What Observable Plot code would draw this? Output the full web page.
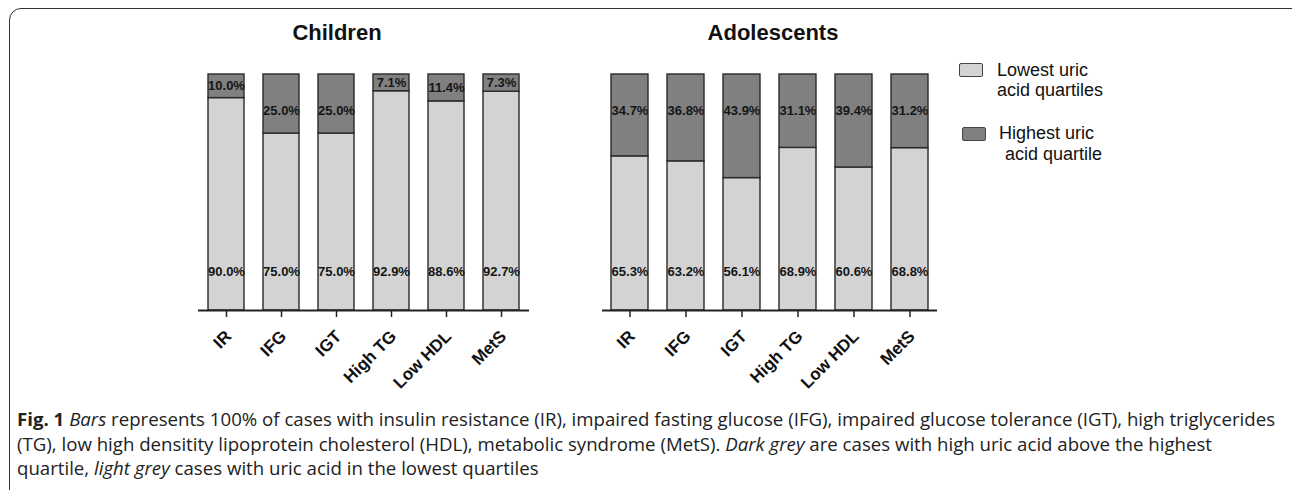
<!DOCTYPE html>
<html>
<head>
<meta charset="utf-8">
<script src="https://cdn.jsdelivr.net/npm/d3@7"></script>
<script src="https://cdn.jsdelivr.net/npm/@observablehq/plot@0.6"></script>
<style>
  html, body { margin: 0; padding: 0; background: #fff; }
  #page { position: relative; width: 1292px; height: 490px; overflow: hidden; font-family: "Liberation Sans", Arial, sans-serif; }
  #box { position: absolute; left: 9px; top: 8px; width: 1300px; height: 500px; border: 1.5px solid #333; border-radius: 12px; box-sizing: border-box; }
  .ptitle { position: absolute; top: 20px; font-weight: bold; font-size: 22px; color: #111; transform: translateX(-50%); white-space: nowrap; }
  .chart { position: absolute; top: 0; }
  .sw { position: absolute; width: 24px; height: 14px; border: 1.5px solid #444; box-sizing: border-box; border-radius: 2px; }
  .lt { position: absolute; font-size: 18px; line-height: 20px; color: #111; white-space: nowrap; }
  #caption { position: absolute; left: 17px; top: 407px; font-family: "Open Sans", sans-serif; font-size: 18.65px; line-height: 24.5px; color: #222; white-space: nowrap; }
  #caption b { font-weight: bold; }
</style>
</head>
<body>
<div id="page">
  <div id="box"></div>
  <div class="ptitle" style="left:337px">Children</div>
  <div class="ptitle" style="left:773px">Adolescents</div>
  <div id="c1" class="chart" style="left:0px"></div>
  <div id="c2" class="chart" style="left:560px"></div>
  <div id="legend"></div>
  <div id="caption"><b>Fig. 1</b> <i>Bars</i> represents 100% of cases with insulin resistance (IR), impaired fasting glucose (IFG), impaired glucose tolerance (IGT), high triglycerides<br>(TG), low high densitity lipoprotein cholesterol (HDL), metabolic syndrome (MetS). <i>Dark grey</i> are cases with high uric acid above the highest<br>quartile, <i>light grey</i> cases with uric acid in the lowest quartiles</div>
</div>
<script>
const categories = ["IR", "IFG", "IGT", "High TG", "Low HDL", "MetS"];
const seriesNames = ["Lowest uric acid quartiles", "Highest uric acid quartile"];
const seriesColors = ["#d3d3d3", "#808080"];
const childrenLowest = [90.0, 75.0, 75.0, 92.9, 88.6, 92.7];
const childrenHighest = [10.0, 25.0, 25.0, 7.1, 11.4, 7.3];
const adolescentsLowest = [65.3, 63.2, 56.1, 68.9, 60.6, 68.8];
const adolescentsHighest = [34.7, 36.8, 43.9, 31.1, 39.4, 31.2];

function rows(lowest, highest) {
  const out = [];
  categories.forEach((c, i) => {
    out.push({cat: c, series: seriesNames[0], value: lowest[i], ly: 16.5});
    out.push({cat: c, series: seriesNames[1], value: highest[i], ly: highest[i] < 15 ? 100 - highest[i] / 2 : 84.7});
  });
  return out;
}

function panel(data, width, ml, mr) {
  return Plot.plot({
    width, height: 400,
    marginTop: 74, marginBottom: 90, marginLeft: ml, marginRight: mr,
    style: {fontFamily: "Liberation Sans, Arial, sans-serif", color: "#111", background: "transparent"},
    x: {domain: categories, paddingInner: 0.34, paddingOuter: 0.16, label: null},
    y: {domain: [0, 100], axis: null},
    color: {domain: seriesNames, range: seriesColors},
    marks: [
      Plot.barY(data, Plot.stackY({x: "cat", y: "value", fill: "series", order: seriesNames, stroke: "#2a2a2a", strokeWidth: 1.4})),
      Plot.text(data, {x: "cat", y: "ly", text: d => d.value.toFixed(1) + "%", fontWeight: "bold", fontSize: 13, fill: "#151515", fontFamily: "Liberation Sans Narrow, Liberation Sans, Arial, sans-serif"}),
      Plot.ruleY([0], {stroke: "#222", strokeWidth: 2}),
      Plot.axisX({tickSize: 7, tickFormat: () => "", label: null, stroke: "#222", strokeWidth: 1.5}),
      Plot.axisX({tickSize: 0, tickPadding: 15, tickRotate: -45, fontSize: 17, fontWeight: "bold", dx: 2, dy: 8, label: null, fill: "#111"})
    ]
  });
}

document.getElementById("c1").appendChild(panel(rows(childrenLowest, childrenHighest), 560, 198, 31));
document.getElementById("c2").appendChild(panel(rows(adolescentsLowest, adolescentsHighest), 400, 42, 23));

const legend = document.getElementById("legend");
const lg = [
  {sw: [959, 63], lines: [[997, 60, "Lowest uric"], [997, 80, "acid quartiles"]]},
  {sw: [962, 127], lines: [[999, 123, "Highest uric"], [1005, 144, "acid quartile"]]}
];
lg.forEach((e, i) => {
  const s = document.createElement("div");
  s.className = "sw";
  s.style.left = e.sw[0] + "px"; s.style.top = e.sw[1] + "px";
  s.style.background = seriesColors[i];
  legend.appendChild(s);
  e.lines.forEach(([x, y, t]) => {
    const d = document.createElement("div");
    d.className = "lt";
    d.style.left = x + "px"; d.style.top = y + "px";
    d.textContent = t;
    legend.appendChild(d);
  });
});
</script>
</body>
</html>
